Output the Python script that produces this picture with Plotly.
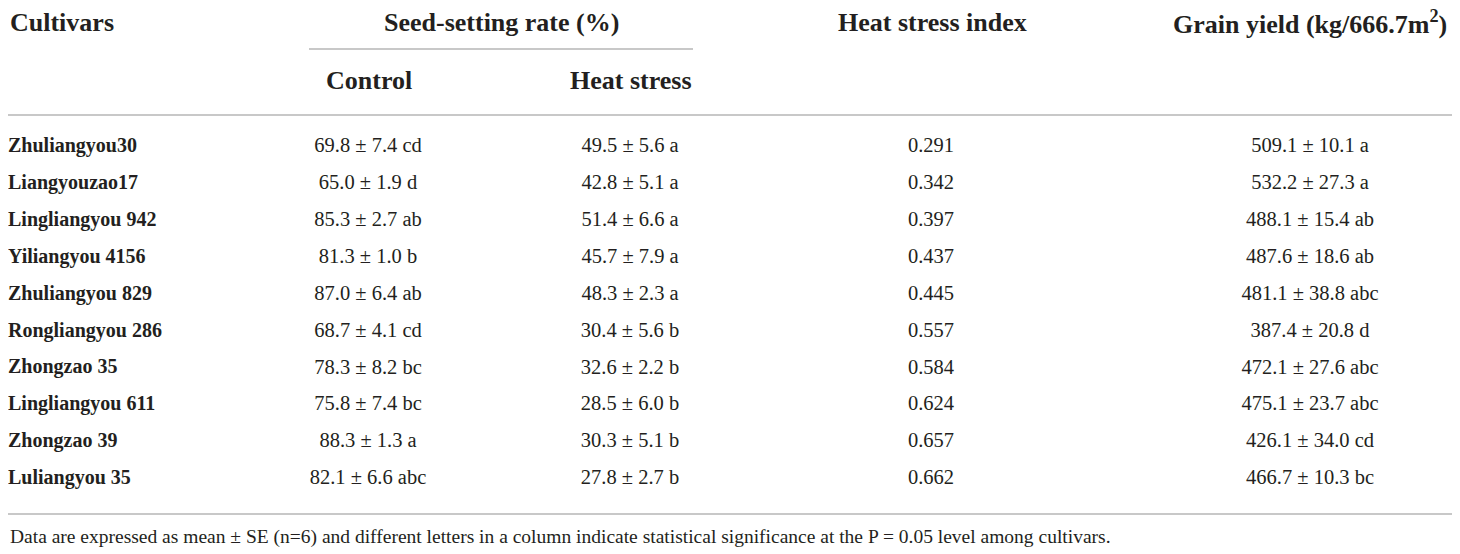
import plotly.graph_objects as go

# table contents
cultivars = ["Zhuliangyou30", "Liangyouzao17", "Lingliangyou 942", "Yiliangyou 4156",
             "Zhuliangyou 829", "Rongliangyou 286", "Zhongzao 35", "Lingliangyou 611",
             "Zhongzao 39", "Luliangyou 35"]
control = ["69.8 ± 7.4 cd", "65.0 ± 1.9 d", "85.3 ± 2.7 ab", "81.3 ± 1.0 b", "87.0 ± 6.4 ab",
           "68.7 ± 4.1 cd", "78.3 ± 8.2 bc", "75.8 ± 7.4 bc", "88.3 ± 1.3 a", "82.1 ± 6.6 abc"]
heat_stress = ["49.5 ± 5.6 a", "42.8 ± 5.1 a", "51.4 ± 6.6 a", "45.7 ± 7.9 a", "48.3 ± 2.3 a",
               "30.4 ± 5.6 b", "32.6 ± 2.2 b", "28.5 ± 6.0 b", "30.3 ± 5.1 b", "27.8 ± 2.7 b"]
hsi = ["0.291", "0.342", "0.397", "0.437", "0.445", "0.557", "0.584", "0.624", "0.657", "0.662"]
grain_yield = ["509.1 ± 10.1 a", "532.2 ± 27.3 a", "488.1 ± 15.4 ab", "487.6 ± 18.6 ab",
               "481.1 ± 38.8 abc", "387.4 ± 20.8 d", "472.1 ± 27.6 abc", "475.1 ± 23.7 abc",
               "426.1 ± 34.0 cd", "466.7 ± 10.3 bc"]
footnote = ("Data are expressed as mean ± SE (n=6) and different letters in a column indicate "
            "statistical significance at the P = 0.05 level among cultivars.")

W, H = 1460, 554
OFF = 8  # page body margin
FONT = "Liberation Serif"
INK = "#231f20"
LINE = "#c8c8c8"

# layout: column centres and row positions (pixel-like axis units)
x_name = 8
x_cols = [368, 630, 931, 1310]
row0, row_step = 147, 36.9
rows = [row0 + i * row_step for i in range(len(cultivars))]

fig = go.Figure()

fig.add_trace(go.Scatter(
    x=[x_name] * len(cultivars), y=rows, text=cultivars, mode="text",
    textposition="middle right",
    textfont=dict(family=FONT, size=20, color=INK, weight="bold"),
    hoverinfo="skip", showlegend=False))

for xc, col in zip(x_cols, [control, heat_stress, hsi, grain_yield]):
    fig.add_trace(go.Scatter(
        x=[xc] * len(col), y=rows, text=col, mode="text",
        textposition="middle center",
        textfont=dict(family=FONT, size=20.5, color=INK),
        hoverinfo="skip", showlegend=False))

hfont = dict(family=FONT, size=26, color=INK, weight="bold")
headers = [
    (x_name, 22, "Cultivars", "left"),
    (501, 22, "Seed-setting rate (%)", "center"),
    (932, 22, "Heat stress index", "center"),
    (1310, 22, "Grain yield (kg/666.7m<sup>2</sup>)", "center"),
    (369, 80, "Control", "center"),
    (631, 80, "Heat stress", "center"),
]
for hx, hy, txt, al in headers:
    fig.add_annotation(x=hx, y=hy, xref="x", yref="y", text=txt, showarrow=False,
                       xanchor=al, yanchor="middle", font=hfont)

fig.add_annotation(x=x_name, y=537, xref="x", yref="y", text=footnote, showarrow=False,
                   xanchor="left", yanchor="middle",
                   font=dict(family=FONT, size=19.5, color=INK))

# rules
for x0, x1, yy in [(309, 693, 49), (0, 1452, 115), (0, 1452, 514)]:
    fig.add_shape(type="line", x0=x0, x1=x1, y0=yy, y1=yy, xref="x", yref="y",
                  line=dict(color=LINE, width=1.8))

fig.update_layout(
    width=W, height=H,
    margin=dict(l=0, r=0, t=0, b=0),
    paper_bgcolor="white", plot_bgcolor="white",
    xaxis=dict(range=[OFF, W + OFF], visible=False, fixedrange=True),
    yaxis=dict(range=[H + OFF, OFF], visible=False, fixedrange=True),
)

fig.write_html("out.html")
